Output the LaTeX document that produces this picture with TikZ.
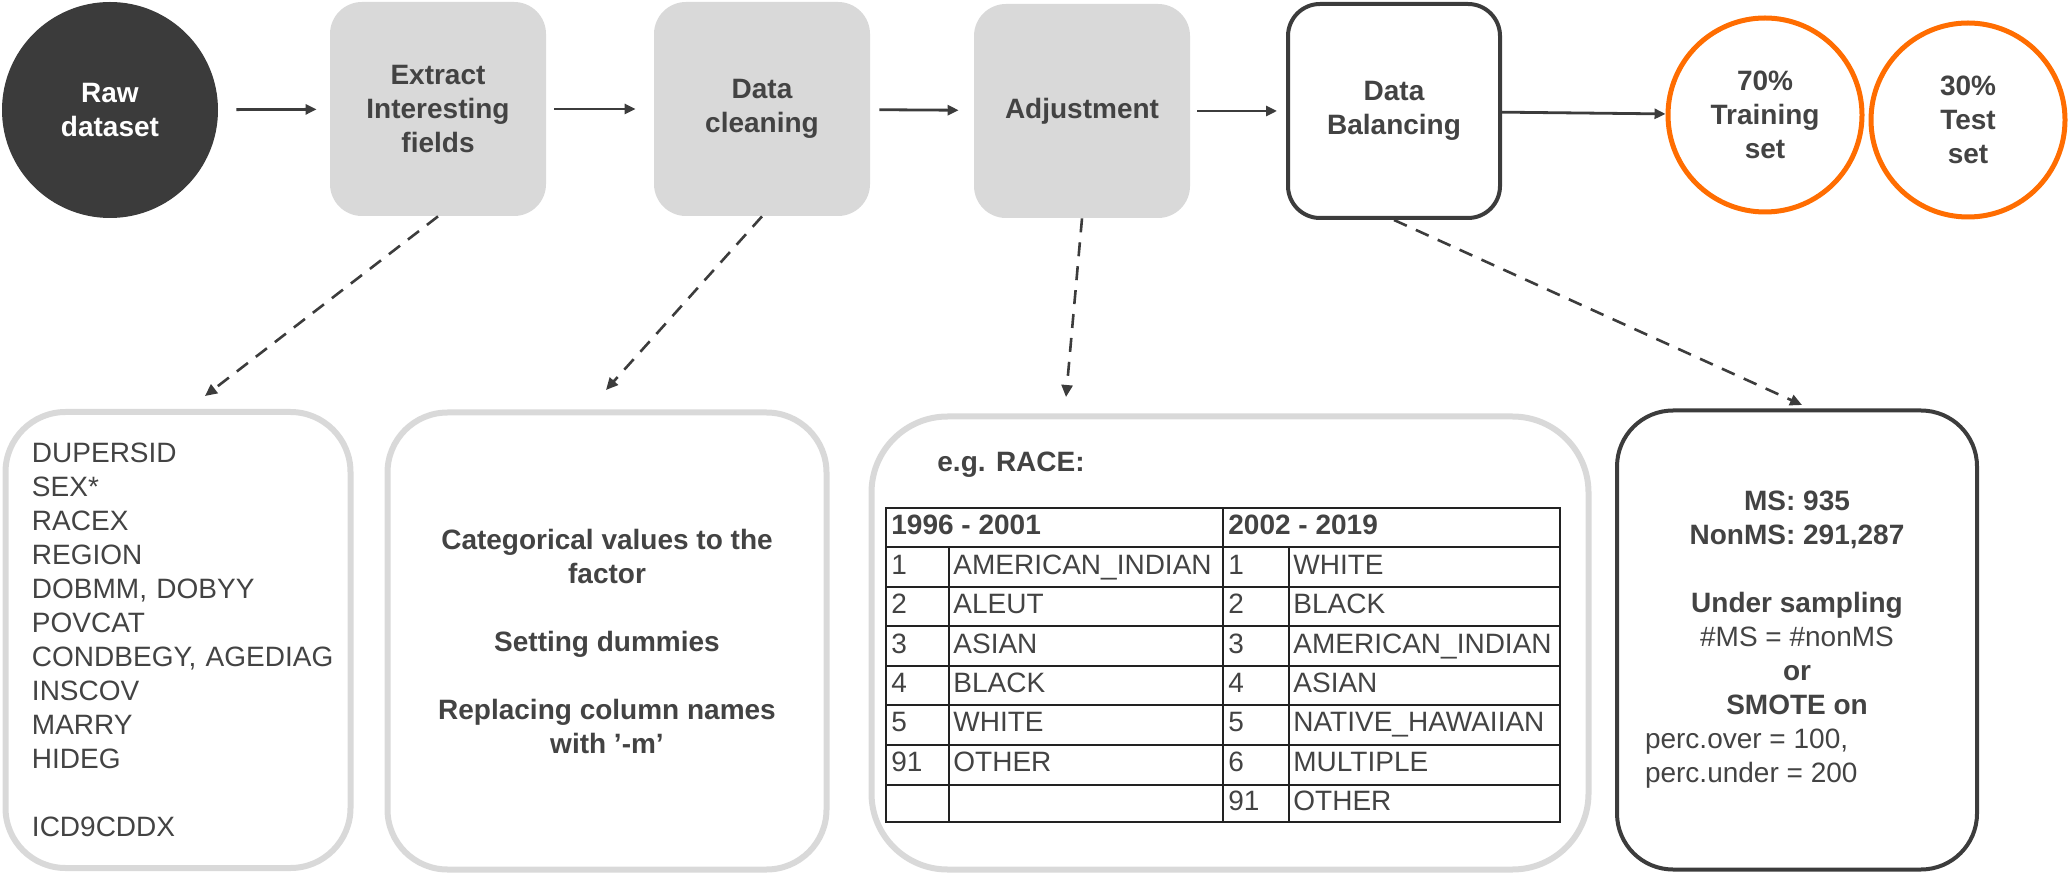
\documentclass[tikz,border=0pt]{standalone}
\usepackage{fontspec}
\setmainfont{Liberation Sans}
\usetikzlibrary{arrows.meta}
\definecolor{rawgray}{HTML}{3B3B3B}
\definecolor{boxgray}{HTML}{D9D9D9}
\definecolor{textgray}{HTML}{434343}
\definecolor{linegray}{HTML}{3C3C3C}
\definecolor{tablegray}{HTML}{222222}
\definecolor{splitorange}{HTML}{FF6D01}
\begin{document}
\begin{tikzpicture}[
        x=0.5pt, y=-0.5pt,
        >={Triangle[length=5.5pt, width=5pt]},
        every node/.style={text=textgray, font=\fontsize{14}{17}\selectfont\bfseries, align=center},
        stepbox/.style={rounded corners=16pt, fill=boxgray, minimum width=108pt, minimum height=107pt},
        splitset/.style={circle, draw=splitorange, line width=2.5pt, minimum size=97pt},
        infobox/.style={rounded corners=30pt, draw=boxgray, line width=3pt},
        flow/.style={->, line width=1.4pt, draw=linegray},
        detail/.style={->, >={Triangle[length=6pt, width=5.5pt]}, line width=1.3pt, draw=linegray, dash pattern=on 7pt off 5pt},
        cell/.style={anchor=west, inner sep=0pt, text height=10pt, text depth=2.5pt, font=\fontsize{14}{17}\selectfont}
    ]
        \useasboundingbox (0,0) rectangle (2070,876);

        % Hàng trên: các bước xử lý
        \node [circle, fill=rawgray, text=white, minimum size=108pt] (raw) at (110,110) {Raw\\dataset};
        \node [stepbox] (extract) at (438,109) {Extract\\Interesting\\fields};
        \node [stepbox] (clean) at (762,109) {Data\\cleaning};
        \node [stepbox] (adjust) at (1082,111) {Adjustment};
        \node [stepbox, fill=white, draw=linegray, line width=2pt, minimum width=106pt] (balance) at (1394,111) {Data\\Balancing};
        \node [splitset] (train) at (1765,115) {70\%\\Training\\set};
        \node [splitset] (test) at (1968,120) {30\%\\Test\\set};

        \draw [flow, shorten <=9pt, shorten >=6.5pt] (raw) -- (extract);
        \draw [flow, shorten <=4pt, shorten >=9pt] (extract) -- (clean);
        \draw [flow, shorten <=4.5pt, shorten >=7.5pt] (clean) -- (adjust);
        \draw [flow, shorten <=3.5pt, shorten >=4.5pt] (adjust) -- (balance);
        \draw [flow] (balance) -- (train);

        % Hàng dưới: chi tiết
        \node [infobox, minimum width=172.5pt, minimum height=228pt, text width=146pt, align=left,
               font=\fontsize{14}{17}\selectfont] (fields) at (178,640)
            {DUPERSID\\SEX*\\RACEX\\REGION\\DOBMM, DOBYY\\POVCAT\\\mbox{CONDBEGY, AGEDIAG}\\INSCOV\\MARRY\\HIDEG\\[17pt]ICD9CDDX};
        \node [infobox, minimum width=219.5pt, minimum height=228.5pt] (cleaninfo) at (607,641)
            {Categorical values to the\\factor\\[17pt]Setting dummies\\[17pt]Replacing column names\\with ’-m’};
        \node [infobox, rounded corners=38pt, minimum width=358.5pt, minimum height=226.5pt] (raceinfo) at (1230,643) {};
        \node [infobox, draw=linegray, line width=2pt, rounded corners=28pt, minimum width=180pt, minimum height=229.5pt] (balanceinfo) at (1797,640)
            {MS: 935\\NonMS: 291,287\\[17pt]Under sampling\\{\mdseries \#MS = \#nonMS}\\or\\SMOTE on\\
             \makebox[152pt][l]{\mdseries perc.over = 100,}\\\makebox[152pt][l]{\mdseries perc.under = 200}};

        % Bảng RACE
        \node [anchor=west, inner sep=0pt] (racelabel) at (937,465) {e.g. RACE:};
        \draw [tablegray, line width=0.8pt] (886,508) rectangle (1560,822);
        \draw [tablegray, line width=0.8pt] (1223,508) -- (1223,822) (949,547) -- (949,822) (1289,547) -- (1289,822);
        \foreach \y in {547,587,626,666,705,745,785}
            \draw [tablegray, line width=0.8pt] (886,\y) -- (1560,\y);
        \node [cell, font=\fontsize{14}{17}\selectfont\bfseries] (oldhead) at (891,527) {1996 - 2001};
        \node [cell, font=\fontsize{14}{17}\selectfont\bfseries] (newhead) at (1228,527) {2002 - 2019};
        \foreach \num/\race [count=\i] in {1/AMERICAN\_INDIAN, 2/ALEUT, 3/ASIAN, 4/BLACK, 5/WHITE, 91/OTHER} {
            \node [cell] (oldnum\i) at (891,{527.4+39.4*\i}) {\num};
            \node [cell] (oldrace\i) at (953,{527.4+39.4*\i}) {\race};
        }
        \foreach \num/\race [count=\i] in {1/WHITE, 2/BLACK, 3/AMERICAN\_INDIAN, 4/ASIAN, 5/NATIVE\_HAWAIIAN, 6/MULTIPLE, 91/OTHER} {
            \node [cell] (newnum\i) at (1228,{527.4+39.4*\i}) {\num};
            \node [cell] (newrace\i) at (1293,{527.4+39.4*\i}) {\race};
        }

        % Mũi tên nét đứt
        \coordinate (fieldsin) at (205,396);
        \coordinate (cleanin) at (606,390);
        \coordinate (racein) at (1066,397);
        \coordinate (balancein) at (1802,405);
        \draw [detail] (extract.south) -- (fieldsin);
        \draw [detail] (clean.south) -- (cleanin);
        \draw [detail] (adjust.south) -- (racein);
        \draw [detail] (balance.south) -- (balancein);
    \end{tikzpicture}
\end{document}
